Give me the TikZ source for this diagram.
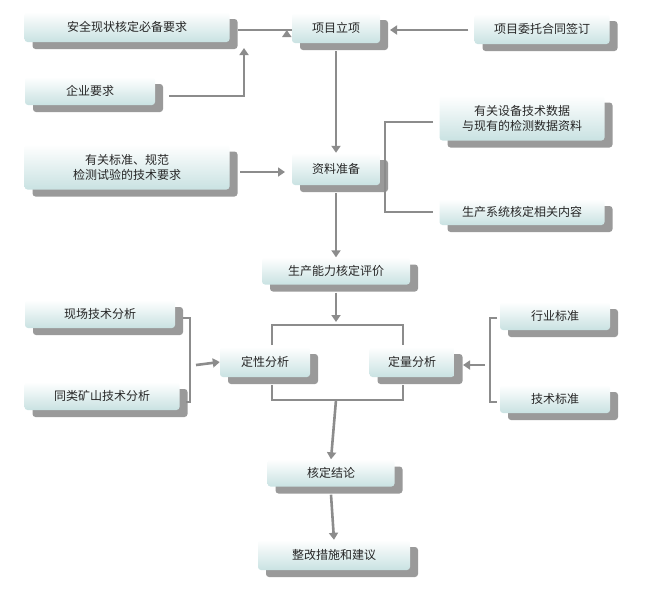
\documentclass[tikz,border=0pt]{standalone}
\usepackage{fontspec}
\newfontfamily\cjk{Noto Sans CJK SC}
\usetikzlibrary{shadows,arrows.meta}
\definecolor{boxbot}{HTML}{C9E2E2}
\definecolor{ln}{HTML}{8C8C8C}
\definecolor{sh}{HTML}{9A9A9A}
\begin{document}
\begin{tikzpicture}[x=1pt,y=-1pt,
  box/.style={rounded corners=3pt,top color=white,bottom color=boxbot,draw=none,
    font=\cjk\fontsize{12}{15}\selectfont,text=black!85,align=center,inner sep=0pt,
    drop shadow={shadow xshift=8pt,shadow yshift=-7pt,fill=sh,opacity=1}},
  ln/.style={draw=ln,line width=2.6pt},
  ar/.style={ln,-{Triangle[length=7pt,width=9pt]}}]
\useasboundingbox (0,0) rectangle (645,590);
\node[box,minimum width=205,minimum height=30] (a1) at (127,27) {安全现状核定必备要求};
\node[box,minimum width=130,minimum height=28] (a2) at (90,91) {企业要求};
\node[box,minimum width=205,minimum height=45] (a3) at (127,167) {有关标准、规范\\检测试验的技术要求};
\node[box,minimum width=88,minimum height=30] (p1) at (336,28) {项目立项};
\node[box,minimum width=135,minimum height=30] (p2) at (542,29) {项目委托合同签订};
\node[box,minimum width=88,minimum height=32] (zl) at (336,169) {资料准备};
\node[box,minimum width=165,minimum height=45] (s1) at (522,118) {有关设备技术数据\\与现有的检测数据资料};
\node[box,minimum width=165,minimum height=26] (s2) at (522,212) {生产系统核定相关内容};
\node[box,minimum width=148,minimum height=27] (sc) at (336,271) {生产能力核定评价};
\node[box,minimum width=150,minimum height=28] (l1) at (100,314) {现场技术分析};
\node[box,minimum width=155,minimum height=28] (l2) at (102,396) {同类矿山技术分析};
\node[box,minimum width=90,minimum height=30] (dx) at (265,362) {定性分析};
\node[box,minimum width=85,minimum height=30] (dl) at (412,362) {定量分析};
\node[box,minimum width=110,minimum height=28] (r1) at (555,316) {行业标准};
\node[box,minimum width=110,minimum height=28] (r2) at (555,399) {技术标准};
\node[box,minimum width=127,minimum height=27] (hd) at (331,473) {核定结论};
\node[box,minimum width=152,minimum height=30] (zg) at (334,555) {整改措施和建议};
% top
\coordinate (j1) at (244,96);
\draw[ar] (238,30) -- (p1.west|-0,30) ++(-5,0);
\draw[ar] (a2.east)++(14,5) -- (j1) -- (244,48);
\draw[ar] (p2.west)++(-6,1) -- (390,30);
\draw[ar] (p1.south)++(0,8) -- (zl.north);
\draw[ar] (240,172) -- (285,172);
\draw[ln] (433,122) -- (385,122) -- (385,212) -- (433,212);
\draw[ar] (zl.south)++(0,8) -- (sc.north);
% middle
\draw[ar] (sc.south)++(0,8) -- (336,322);
\draw[ln] (272,345) -- (272,325) -- (403,325) -- (403,345);
\draw[ln] (272,385) -- (272,400) -- (403,400) -- (403,385);
\draw[ar] (336,400) -- (hd.north);
\draw[ar] (hd.south)++(0,8) -- (zg.north);
\draw[ln] (183,318) -- (190,318) -- (190,402) -- (186,402);
\draw[ar] (196,365) -- (dx.west);
\draw[ln] (497,318) -- (490,318) -- (490,402) -- (497,402);
\draw[ar] (485,365) -- (463,365);
\end{tikzpicture}
\end{document}
